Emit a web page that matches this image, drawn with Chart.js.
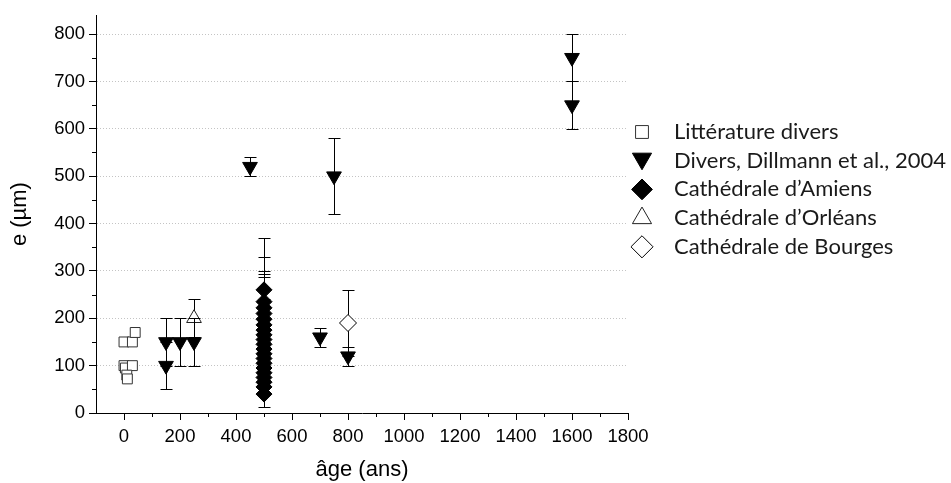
<!DOCTYPE html>
<html>
<head>
<meta charset="utf-8">
<script src="https://cdn.jsdelivr.net/npm/chart.js@4.4.1/dist/chart.umd.min.js"></script>
<style>
  html, body { margin: 0; padding: 0; background: #fff; }
  #wrap { width: 951px; height: 483px; position: relative; }
</style>
</head>
<body>
<div id="wrap"><canvas id="canvas_1"></canvas></div>
<script>
// tick labels
const xTicks = [0, 200, 400, 600, 800, 1000, 1200, 1400, 1600, 1800];
const yTicks = [0, 100, 200, 300, 400, 500, 600, 700, 800];

const seriesNames = ["Littérature divers", "Divers, Dillmann et al., 2004", "Cathédrale d’Amiens", "Cathédrale d’Orléans", "Cathédrale de Bourges"];

// Littérature divers
const litAge = [0, 30, 40, 0, 5, 30, 10, 12];
const litE = [150, 150, 170, 100, 95, 100, 80, 72];

// Divers, Dillmann et al., 2004
const diversAge = [150, 150, 200, 250, 450, 700, 750, 800, 1600, 1600];
const diversE = [100, 150, 150, 150, 520, 160, 500, 120, 750, 650];
const diversErr = [50, 50, 50, 50, 20, 20, 80, 20, 50, 50];

// Cathédrale d'Amiens
const amiensAge = [500, 500, 500, 500, 500, 500, 500, 500, 500, 500, 500, 500, 500, 500, 500, 500, 500, 500, 500, 500];
const amiensE = [260, 235, 222, 210, 198, 186, 175, 165, 155, 145, 135, 125, 115, 105, 95, 85, 75, 65, 55, 40];
const amiensErr = [110, 95, 0, 90, 96, 101, 0, 0, 85, 0, 0, 0, 0, 0, 0, 0, 0, 0, 0, 28];

// Cathédrale d'Orléans
const orleansAge = [250];
const orleansE = [200];
const orleansErr = [40];

// Cathédrale de Bourges
const bourgesAge = [800];
const bourgesE = [190];
const bourgesErr = [70];

function pts(xs, ys) {
  return xs.map((v, i) => ({ x: v, y: ys[i] }));
}

// error bars under each dataset's own markers
const errorBars = {
  id: 'errorBars',
  beforeDatasetDraw(chart, args) {
    const ds = chart.data.datasets[args.index];
    if (!ds.errors) return;
    const xs = chart.scales.x, ys = chart.scales.y, ctx = chart.ctx;
    ctx.save();
    ctx.strokeStyle = '#000';
    ctx.lineWidth = 1;
    ds.data.forEach((p, i) => {
      const err = ds.errors[i];
      if (!err) return;
      const px = Math.round(xs.getPixelForValue(p.x)) + 0.5;
      const top = Math.round(ys.getPixelForValue(p.y + err)) + 0.5;
      const bot = Math.round(ys.getPixelForValue(p.y - err)) + 0.5;
      ctx.beginPath();
      ctx.moveTo(px, top); ctx.lineTo(px, bot);
      ctx.moveTo(px - 6, top); ctx.lineTo(px + 6, top);
      ctx.moveTo(px - 6, bot); ctx.lineTo(px + 6, bot);
      ctx.stroke();
    });
    ctx.restore();
  }
};

// minor ticks halfway between the major ones
const minorTicks = {
  id: 'minorTicks',
  afterDraw(chart) {
    const ctx = chart.ctx, xs = chart.scales.x, ys = chart.scales.y;
    const area = chart.chartArea;
    ctx.save();
    ctx.strokeStyle = '#000';
    ctx.lineWidth = 1;
    ctx.beginPath();
    for (let i = 0; i < xTicks.length - 1; i++) {
      const px = Math.round(xs.getPixelForValue((xTicks[i] + xTicks[i + 1]) / 2)) + 0.5;
      ctx.moveTo(px, area.bottom); ctx.lineTo(px, area.bottom + 4);
    }
    const yMinor = yTicks.slice(0, -1).map((v, i) => (v + yTicks[i + 1]) / 2);
    yMinor.forEach(v => {
      const py = Math.round(ys.getPixelForValue(v)) + 0.5;
      ctx.moveTo(area.left, py); ctx.lineTo(area.left - 4, py);
    });
    ctx.stroke();
    ctx.restore();
  }
};

// legend on the right
const sideLegend = {
  id: 'sideLegend',
  afterDraw(chart) {
    const ctx = chart.ctx;
    const x0 = 642, textX = 674, y0 = 132, step = 28.7;
    ctx.save();
    chart.data.datasets.forEach((ds, i) => {
      const y = y0 + i * step;
      ctx.fillStyle = ds.backgroundColor;
      ctx.strokeStyle = ds.borderColor;
      ctx.lineWidth = 1;
      Chart.helpers.drawPoint(ctx, {
        pointStyle: ds.pointStyle,
        rotation: ds.rotation || 0,
        radius: ds.pointRadius * 1.3,
        borderWidth: 1
      }, x0, y + (ds.rotation ? -2 : 0));
      ctx.fillStyle = '#1a1a1a';
      ctx.font = '22px Lato';
      ctx.textBaseline = 'middle';
      ctx.textAlign = 'left';
      ctx.fillText(seriesNames[i], textX, y);
    });
    ctx.restore();
  }
};

const fontFamily = '"Liberation Sans", Arial, sans-serif';
const tickFont = { family: fontFamily, size: 18.5 };

const ctx = document.getElementById('canvas_1').getContext('2d');
const chart = new Chart(ctx, {
  type: 'scatter',
  data: {
    datasets: [{
      label: seriesNames[0],
      data: pts(litAge, litE),
      pointStyle: 'rect',
      pointRadius: 7,
      backgroundColor: '#fff',
      borderColor: '#333',
      borderWidth: 1
    }, {
      label: seriesNames[1],
      data: pts(diversAge, diversE),
      errors: diversErr,
      pointStyle: 'triangle',
      rotation: 180,
      pointRadius: 8.5,
      backgroundColor: '#000',
      borderColor: '#000',
      borderWidth: 1
    }, {
      label: seriesNames[2],
      data: pts(amiensAge, amiensE),
      errors: amiensErr,
      pointStyle: 'rectRot',
      pointRadius: 8,
      backgroundColor: '#000',
      borderColor: '#000',
      borderWidth: 1
    }, {
      label: seriesNames[3],
      data: pts(orleansAge, orleansE),
      errors: orleansErr,
      pointStyle: 'triangle',
      pointRadius: 8.5,
      backgroundColor: '#fff',
      borderColor: '#222',
      borderWidth: 1
    }, {
      label: seriesNames[4],
      data: pts(bourgesAge, bourgesE),
      errors: bourgesErr,
      pointStyle: 'rectRot',
      pointRadius: 8.5,
      backgroundColor: '#fff',
      borderColor: '#000',
      borderWidth: 1
    }]
  },
  options: {
    responsive: true,
    maintainAspectRatio: false,
    animation: false,
    events: [],
    layout: { padding: { top: 15, right: 323, left: 0, bottom: 0 } },
    plugins: {
      legend: { display: false },
      tooltip: { enabled: false }
    },
    scales: {
      x: {
        type: 'linear',
        min: -100,
        max: 1800,
        afterBuildTicks: s => { s.ticks = xTicks.map(v => ({ value: v })); },
        afterFit: s => { s.height = 70; },
        ticks: { font: tickFont, color: '#000', padding: 6, maxRotation: 0, autoSkip: false, callback: v => String(v) },
        grid: { drawOnChartArea: false, drawTicks: true, tickLength: 7, tickColor: '#000', tickWidth: 1 },
        border: { display: true, color: '#000', width: 1 },
        title: { display: true, text: 'âge (ans)', color: '#000', font: { family: fontFamily, size: 22 }, padding: { top: 0, bottom: 0 } }
      },
      y: {
        type: 'linear',
        min: 0,
        max: 840,
        afterBuildTicks: s => { s.ticks = yTicks.map(v => ({ value: v })); },
        afterFit: s => { s.width = 96; },
        ticks: { font: tickFont, color: '#000', padding: 4, callback: v => String(v) },
        grid: {
          color: c => (c.tick && c.tick.value === 0) ? 'rgba(0,0,0,0)' : '#c4c4c4',
          lineWidth: 1,
          drawTicks: true,
          tickLength: 7,
          tickColor: '#000',
          tickWidth: 1,
          tickBorderDash: []
        },
        border: { display: true, color: '#000', width: 1, dash: [1, 2] },
        title: { display: true, text: 'e (µm)', color: '#000', font: { family: fontFamily, size: 22 }, padding: { top: 7, bottom: 0 } }
      }
    }
  },
  plugins: [errorBars, minorTicks, sideLegend]
});
</script>
</body>
</html>
